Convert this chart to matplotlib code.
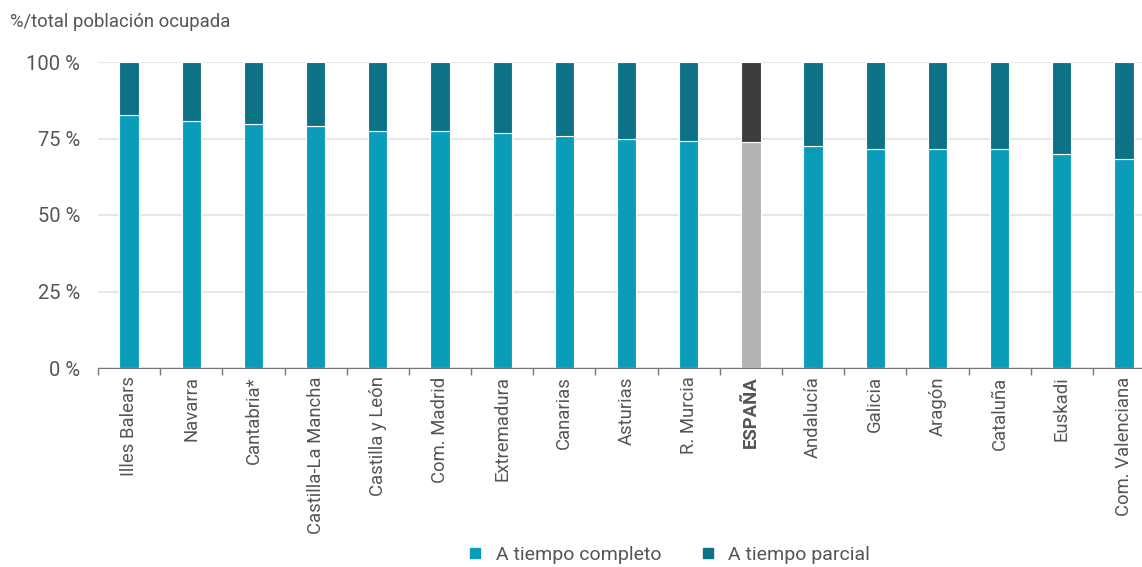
import matplotlib.pyplot as plt
import numpy as np
from matplotlib.lines import Line2D

plt.rcParams['font.family'] = ['Roboto', 'DejaVu Sans']

# datos: % de ocupados por tipo de jornada
regiones = ['Illes Balears', 'Navarra', 'Cantabria*', 'Castilla-La Mancha',
            'Castilla y León', 'Com. Madrid', 'Extremadura', 'Canarias',
            'Asturias', 'R. Murcia', 'ESPAÑA', 'Andalucía', 'Galicia',
            'Aragón', 'Cataluña', 'Euskadi', 'Com. Valenciana']
completo = [82.6, 80.7, 79.8, 79.0, 77.6, 77.3, 76.7, 75.8, 74.9, 74.3,
            73.8, 72.5, 71.5, 71.5, 71.5, 69.9, 68.4]
parcial = [100 - v for v in completo]
yticks = [0, 25, 50, 75, 100]
ytick_labels = ['0 %', '25 %', '50 %', '75 %', '100 %']

c_comp = '#0a9dba'
c_parc = '#0d7286'
gris_claro = '#b3b3b3'
gris_osc = '#3d3d3f'

fig = plt.figure(figsize=(11.42, 5.67), dpi=100)
ax = fig.add_axes([98 / 1142, 1 - 368 / 567, 1 - 98 / 1142, (368 - 62) / 567])

x = np.arange(len(regiones))
col1 = [gris_claro if r == 'ESPAÑA' else c_comp for r in regiones]
col2 = [gris_osc if r == 'ESPAÑA' else c_parc for r in regiones]
ax.bar(x, completo, width=0.31, color=col1, edgecolor='white', linewidth=0.8, zorder=3)
ax.bar(x, parcial, bottom=completo, width=0.31, color=col2, edgecolor='white',
       linewidth=0.8, zorder=3)

ax.set_ylim(0, 100)
ax.set_xlim(-0.5, 16.29)
ax.set_yticks(yticks)
ax.set_yticklabels(ytick_labels)
ax.yaxis.grid(True, color='#e3e3e3', linewidth=1.2, zorder=0)
ax.tick_params(axis='y', length=0, pad=13, labelsize=14.5, labelcolor='#555555')

ax.set_xticks(x)
ax.set_xticklabels(regiones, rotation=90, fontsize=13.3, color='#555555')
ax.set_xticks(x - 0.5, minor=True)
ax.tick_params(axis='x', which='major', length=0, pad=6)
ax.tick_params(axis='x', which='minor', length=5, color='#777777', width=1)
for lbl in ax.get_xticklabels():
    if lbl.get_text() == 'ESPAÑA':
        lbl.set_fontweight('bold')

for s in ['top', 'right', 'left']:
    ax.spines[s].set_visible(False)
ax.spines['bottom'].set_color('#777777')
ax.spines['bottom'].set_zorder(4)

fig.text(10 / 1142, 1 - 22 / 567, '%/total población ocupada', fontsize=13.3,
         color='#555555', va='center')

handles = [Line2D([], [], marker='s', linestyle='none', color=c_comp, markersize=7.5),
           Line2D([], [], marker='s', linestyle='none', color=c_parc, markersize=7.5)]
fig.legend(handles, ['A tiempo completo', 'A tiempo parcial'], loc='center',
           bbox_to_anchor=(663 / 1142, 12 / 567), ncol=2, frameon=False,
           fontsize=14, labelcolor='#555555', handletextpad=0.05, columnspacing=1.4)

fig.savefig('out.png', dpi=100)
